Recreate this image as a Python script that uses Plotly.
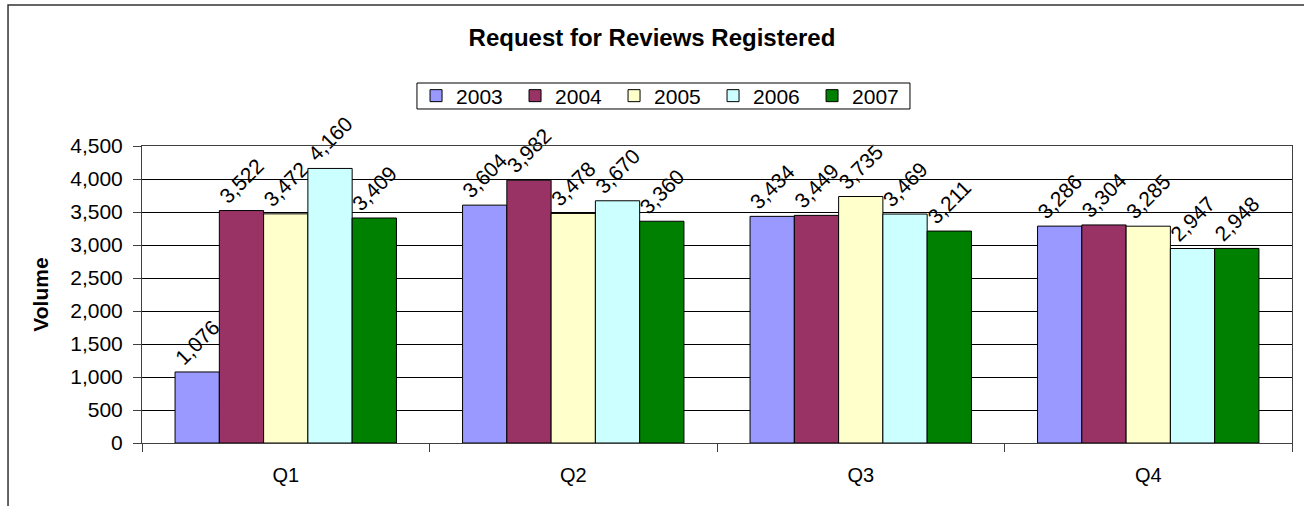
import plotly.graph_objects as go

quarters = ["Q1", "Q2", "Q3", "Q4"]
years = ["2003", "2004", "2005", "2006", "2007"]
vol_2003 = [1076, 3604, 3434, 3286]
vol_2004 = [3522, 3982, 3449, 3304]
vol_2005 = [3472, 3478, 3735, 3285]
vol_2006 = [4160, 3670, 3469, 2947]
vol_2007 = [3409, 3360, 3211, 2948]
colors = ["#9999FF", "#993366", "#FFFFCC", "#CCFFFF", "#008000"]

series = [vol_2003, vol_2004, vol_2005, vol_2006, vol_2007]
font = "Liberation Sans, Arial, sans-serif"

fig = go.Figure()
for year, vals, col in zip(years, series, colors):
    fig.add_trace(go.Bar(
        x=quarters, y=vals, name=year,
        marker=dict(color=col, line=dict(color="black", width=1)),
        text=[f"{v:,}" for v in vals],
        textposition="outside", textangle=-45,
        constraintext="none", cliponaxis=False,
        textfont=dict(size=21, color="black", family=font),
    ))

# outer chart frame (cropped at right and bottom)
fig.add_shape(type="rect", xref="paper", yref="paper",
              x0=-0.1165, x1=1.02, y0=-0.25, y1=1.4747,
              line=dict(color="#333333", width=1.5), layer="below")
# legend box
fig.add_shape(type="rect", xref="paper", yref="paper",
              x0=0.2391, x1=0.6678, y0=1.1246, y1=1.2121,
              line=dict(color="black", width=1), layer="below")

fig.update_layout(
    width=1304, height=506,
    margin=dict(l=142, r=12, t=146, b=63),
    paper_bgcolor="white", plot_bgcolor="white",
    barmode="group", bargap=0.23, bargroupgap=0,
    font=dict(family=font, size=20, color="black"),
    title=dict(text="<b>Request for Reviews Registered</b>",
               font=dict(size=24, family=font),
               x=0.5, xref="container", xanchor="center",
               y=1 - 38 / 506, yref="container", yanchor="middle"),
    legend=dict(orientation="h", x=0.2383, xanchor="left",
                y=1 - 96 / 506, yref="container", yanchor="middle",
                borderwidth=0, bgcolor="rgba(0,0,0,0)",
                font=dict(size=21, family=font),
                entrywidth=54, entrywidthmode="pixels",
                itemwidth=30, tracegroupgap=0),
    xaxis=dict(showline=True, linecolor="#404040", mirror=True,
               ticks="outside", tickson="boundaries", ticklen=8,
               tickcolor="#404040", showgrid=False,
               ticklabelstandoff=14, tickfont=dict(size=20)),
    yaxis=dict(range=[0, 4500], dtick=500, tickformat=",",
               showline=True, linecolor="#404040", mirror=True,
               ticks="outside", ticklen=8, tickcolor="#404040",
               showgrid=True, gridcolor="black", gridwidth=1,
               ticklabelstandoff=6, tickfont=dict(size=21),
               title=dict(text="<b>Volume</b>", font=dict(size=21),
                          standoff=15)),
)

fig.write_html("out.html", config={"displayModeBar": False},
               post_script="document.body.style.margin='0';")
